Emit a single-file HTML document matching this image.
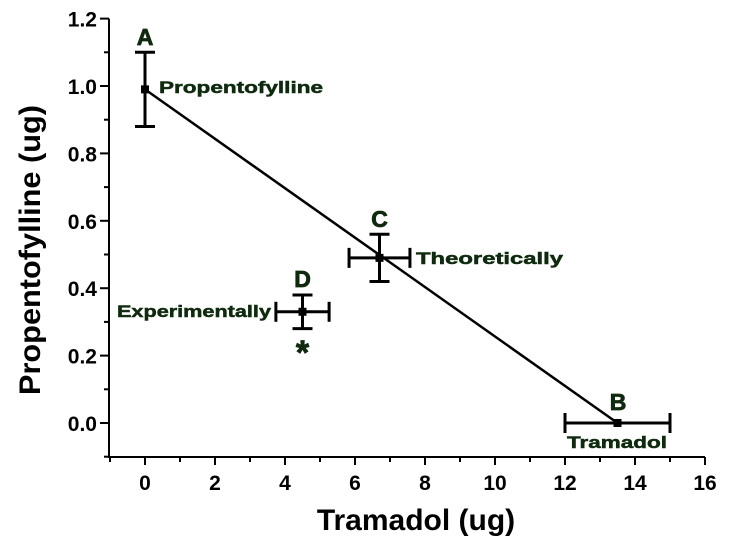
<!DOCTYPE html>
<html><head><meta charset="utf-8"><style>
body{margin:0;background:#fff}
svg text{font-family:"Liberation Sans",Arial,sans-serif;font-weight:bold}
</style></head><body>
<svg id="c" width="729" height="547"></svg>
<script>
const xTicks=[0,2,4,6,8,10,12,14,16];
const yTicks=[0.0,0.2,0.4,0.6,0.8,1.0,1.2];
const pointNames=["A","B","C","D"];
const xVals=[0,13.5,6.7,4.5];
const yVals=[0.99,0,0.49,0.33];
const xErr=[0,1.5,0.87,0.76];
const yErr=[0.11,0,0.07,0.05];
const lineX=[0,13.5];
const lineY=[0.99,0];
const svg=document.getElementById('c');
const NS='http://www.w3.org/2000/svg';
const X=v=>145+(v)*35;
const Y=v=>423-v*337;
function el(t,a,p){const e=document.createElementNS(NS,t);for(const k in a)e.setAttribute(k,a[k]);(p||svg).appendChild(e);return e;}
function txt(s,x,y,a){const e=el('text',Object.assign({x:x,y:y},a));e.textContent=s;return e;}
const G='#0f2a0f';
let ax=el('line',{x1:109,y1:Y(1.2),x2:109,y2:457,stroke:'#000','stroke-width':2});

ax=el('line',{x1:108,y1:457,x2:X(16),y2:457,stroke:'#000','stroke-width':2});

for(let v=-1;v<=16;v++){
  const maj=v%2===0;
  el('line',{x1:X(v),y1:457,x2:X(v),y2:457+(maj?8:5),stroke:'#000','stroke-width':2});
}
xTicks.forEach(v=>{const t=txt(String(v),X(v),490,{'font-size':21,'text-anchor':'middle'});
});
for(let i=-1;i<=12;i++){const v=i*0.1;const maj=i%2===0;
  el('line',{x1:109-(maj?9:5),y1:Y(v),x2:109,y2:Y(v),stroke:'#000','stroke-width':2});}
yTicks.forEach(v=>{const t=txt(v.toFixed(1),97,Y(v)+8,{'font-size':21,'text-anchor':'end'});
});
let t=txt('Tramadol (ug)',416,530,{'font-size':30,'text-anchor':'middle'});

t=txt('Propentofylline (ug)',0,0,{'font-size':30,'text-anchor':'middle',transform:'translate(40,250) rotate(-90)',textLength:290,lengthAdjust:'spacingAndGlyphs'});

const ln=el('line',{x1:X(lineX[0]),y1:Y(lineY[0]),x2:X(lineX[1]),y2:Y(lineY[1]),stroke:'#000','stroke-width':2.5});

pointNames.forEach((n,i)=>{
  const g=el('g',{});
  
  
  const cx=X(xVals[i]),cy=Y(yVals[i]);
  if(yErr[i]>0){const y1=Y(yVals[i]+yErr[i]),y2=Y(yVals[i]-yErr[i]);
    el('line',{x1:cx,y1:y1,x2:cx,y2:y2,stroke:'#000','stroke-width':3},g);
    el('line',{x1:cx-10,y1:y1,x2:cx+10,y2:y1,stroke:'#000','stroke-width':3},g);
    el('line',{x1:cx-10,y1:y2,x2:cx+10,y2:y2,stroke:'#000','stroke-width':3},g);}
  if(xErr[i]>0){const x1=X(xVals[i]-xErr[i]),x2=X(xVals[i]+xErr[i]);
    el('line',{x1:x1,y1:cy,x2:x2,y2:cy,stroke:'#000','stroke-width':3},g);
    el('line',{x1:x1,y1:cy-10,x2:x1,y2:cy+10,stroke:'#000','stroke-width':3},g);
    el('line',{x1:x2,y1:cy-10,x2:x2,y2:cy+10,stroke:'#000','stroke-width':3},g);}
  el('rect',{x:cx-4,y:cy-4,width:8,height:8,fill:'#000'},g);
});
function lab(s,x,y,sz,name,w){const a={'font-size':sz,fill:G,'text-anchor':'start',stroke:G,'stroke-width':0.5};
if(w){a.textLength=w;a.lengthAdjust='spacingAndGlyphs';}
const t=txt(s,x,y,a);
}
function labc(s,x,y,sz,name){const t=txt(s,x,y,{'font-size':sz,fill:G,'text-anchor':'middle','stroke':G,'stroke-width':0.8});
}
labc('A',X(0),45,23,'label-a');
lab('Propentofylline',159,93,17,'label-propentofylline',164);
labc('C',X(6.7),227,23,'label-c');
lab('Theoretically',416,264,17,'label-theoretically',147);
labc('D',X(4.5),287,23,'label-d');
lab('Experimentally',117,317,17,'label-experimentally',154);
labc('*',X(4.5),364,34,'significance-asterisk');
labc('B',618,410,23,'label-b');
lab('Tramadol',567,448,17,'label-tramadol',100);
</script>
</body></html>
